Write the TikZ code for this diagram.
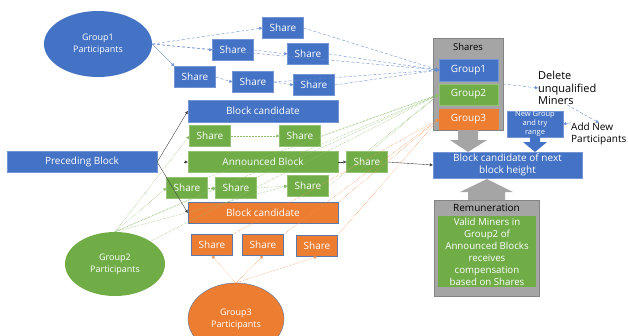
\documentclass[tikz,border=0pt]{standalone}
\usepackage{fontspec}
\setmainfont{Open Sans}
\usetikzlibrary{arrows.meta}
\usetikzlibrary{shapes.geometric,calc}

\definecolor{offblue}{HTML}{4472C4}
\definecolor{offgreen}{HTML}{70AD47}
\definecolor{offorange}{HTML}{ED7D31}
\definecolor{offgray}{HTML}{A5A5A5}

\tikzset{
  box/.style={rectangle, text=white, inner sep=0pt, align=center,
    font=\fontsize{10}{12.5}\selectfont},
  bluebox/.style={box, fill=offblue, draw=offblue!75!white},
  greenbox/.style={box, fill=offgreen, draw=offgreen!75!white},
  orangebox/.style={box, fill=offorange, draw=offblue!60!gray},
  sharebox/.style={minimum width=41pt, minimum height=21pt},
  longbox/.style={minimum width=150pt, minimum height=21pt},
  group/.style={ellipse, text=white, align=center, inner sep=0pt,
    font=\fontsize{9}{12}\selectfont},
  graybox/.style={rectangle, fill=offgray, draw=offgray!80!black, inner sep=0pt},
  note/.style={anchor=west, align=left, inner sep=0pt, font=\fontsize{11}{12.5}\selectfont},
  tip/.style={-{Triangle[width=3pt,length=3pt]}},
  bline/.style={tip, offblue!80!white, densely dashed, line width=0.4pt},
  gline/.style={tip, offgreen!80!white, densely dotted, line width=0.5pt},
  oline/.style={tip, offorange!85!white, densely dotted, line width=0.5pt},
  kline/.style={tip, black!75, line width=0.4pt},
}

\begin{document}
\begin{tikzpicture}[x=1pt,y=-1pt]
\useasboundingbox (0,0) rectangle (628,335);
\clip (0,0) rectangle (628,335);

% participants
\node[group, fill=offblue, minimum width=108pt, minimum height=66pt] (g1) at (98,44) {Group1\\Participants};
\node[group, fill=offgreen, minimum width=100pt, minimum height=64pt] (g2) at (115,264) {Group2\\Participants};
\node[group, fill=offorange, draw=offblue!60!gray, minimum width=96pt, minimum height=72pt] (g3) at (236,319) {Group3\\Participants};

% group1 shares
\node[bluebox, sharebox] (s1a) at (283,28) {Share};
\node[bluebox, sharebox] (s1b) at (233,50) {Share};
\node[bluebox, sharebox] (s1c) at (308,54) {Share};
\node[bluebox, sharebox] (s1d) at (195,77) {Share};
\node[bluebox, sharebox] (s1e) at (253,82) {Share};
\node[bluebox, sharebox] (s1f) at (314,85) {Share};

% blocks
\node[bluebox, longbox] (pre) at (82,162) {Preceding Block};
\node[bluebox, longbox, minimum height=22pt] (bc1) at (263,111) {Block candidate};
\node[greenbox, longbox] (ann) at (263,162) {Announced Block};
\node[orangebox, longbox] (bc2) at (263,213) {Block candidate};

% group2 shares
\node[greenbox, sharebox] (gs1) at (210,136) {Share};
\node[greenbox, sharebox] (gs2) at (300,136) {Share};
\node[greenbox, sharebox] (gs3) at (367,162) {Share};
\node[greenbox, sharebox] (gs4) at (187,188) {Share};
\node[greenbox, sharebox] (gs5) at (236,188) {Share};
\node[greenbox, sharebox] (gs6) at (308,186) {Share};

% group3 shares
\node[orangebox, sharebox] (os1) at (212,245) {Share};
\node[orangebox, sharebox] (os2) at (263,245) {Share};
\node[orangebox, sharebox] (os3) at (317,246) {Share};

% shares container
\node[graybox, minimum width=70pt, minimum height=92pt] (shares) at (468,84) {};
\node[below=2pt, font=\fontsize{9.5}{12}\selectfont] at (shares.north) {Shares};
\node[bluebox, minimum width=59pt, minimum height=22pt] (gr1) at (468.5,70) {Group1};
\node[greenbox, minimum width=59pt, minimum height=21pt] (gr2) at (468.5,94.5) {Group2};
\node[box, fill=offorange, draw=offorange, minimum width=59pt, minimum height=20pt] (gr3) at (468.5,119) {Group3};

% next block and range
\node[bluebox, minimum width=149pt, minimum height=26pt] (next) at (507.5,165) {Block candidate of next\\block height};
\node[bluebox, minimum width=56pt, minimum height=26pt, font=\fontsize{7.5}{9}\selectfont] (ng) at (535,124) {New Group\\and try\\range};

% remuneration
\node[graybox, minimum width=105pt, minimum height=96pt] (rem) at (486.5,248) {};
\node[below=1pt, font=\fontsize{10}{12}\selectfont] at (rem.north) {Remuneration};
\node[box, fill=offgreen, minimum width=98pt, minimum height=71pt, font=\fontsize{9.7}{12}\selectfont] (pay) at (487,251.5) {Valid Miners in\\Group2 of\\Announced Blocks\\receives\\compensation\\based on Shares};

% side notes
\node[note] (del) at (538,88) {Delete\\unqualified\\Miners};
\node[note, font=\fontsize{10}{12}\selectfont] (add) at (571,134) {Add New\\Participants};

% fat arrows
\fill[offgray] (458,130) -- (478,130) -- (478,140) -- (487,140) -- (468,152) -- (450,140) -- (458,140) -- cycle;
\fill[offblue] (530,137) -- (540,137) -- (540,142) -- (547,142) -- (535,152) -- (523,142) -- (530,142) -- cycle;
\fill[offgray] (468,200) -- (505,200) -- (505,192) -- (513,192) -- (487,179) -- (460,192) -- (468,192) -- cycle;

% group1 links
\draw[bline] (g1.east) -- (s1a.west);
\draw[bline] (g1.east) -- (s1b.west);
\draw[bline] (s1b.east) -- (s1c.west);
\draw[bline, solid] (g1.east) -- (s1d.north west);
\draw[bline] (s1d.east) -- (s1e.west);
\draw[bline] (s1e.east) -- (s1f.west);
\draw[bline] (g1.east) -- (gr1.west);
\draw[bline] (s1a.east) -- (gr1.west);
\draw[bline] (s1c.east) -- (gr1.west);
\draw[bline] (s1e.east) -- (gr1.west);
\draw[bline] (s1f.east) -- (gr1.west);

% chain
\draw[kline] (pre.east) -- (bc1.west);
\draw[kline] (pre.east) -- (bc2.west);
\draw[kline] ($(ann.west)+(-4,0)$) -- (ann.west);
\draw[kline] (ann.east) -- (gs3.west);
\draw[kline] (gs3.east) -- (next.west);

% group2 links
\draw[gline] (g2.north) -- (gs1.west);
\draw[gline] (g2.north) -- (gs4.west);
\draw[gline] (g2.north) -- (gs5.west);
\draw[gline] (g2.north) -- (gs6.west);
\draw[gline] (g2.north) -- (gr2.west);
\draw[gline] (g2.north east) -- (gr2.west);
\draw[gline] (gs1.east) -- (gs2.west);
\draw[gline] (gs4.east) -- (gs5.west);
\draw[gline] (gs5.east) -- (gs6.west);
\draw[gline] (gs2.east) -- (gr2.west);
\draw[gline] (gs3.north) -- (gr2.west);
\draw[gline] (gs4.north east) -- (gr2.west);
\draw[gline] (gs5.north east) -- (gr2.west);
\draw[gline] (gs6.east) -- (gr2.west);

% group3 links
\draw[oline] (g3.north) -- (os1.south);
\draw[oline] (g3.north) -- (os2.south);
\draw[oline] (g3.north) -- (os3.south);
\draw[oline] (os1.north east) -- (gr3.west);
\draw[oline] (os2.north east) -- (gr3.west);
\draw[oline] (os3.north east) -- (gr3.west);
\draw[oline] (bc2.north east) -- (gr3.west);

% notes links
\draw[bline] (shares.east) -- (del.west);
\draw[bline] (del.south) -- (add.north);
\draw[bline, solid] (add.north west) -- (ng.east);
\end{tikzpicture}
\end{document}
